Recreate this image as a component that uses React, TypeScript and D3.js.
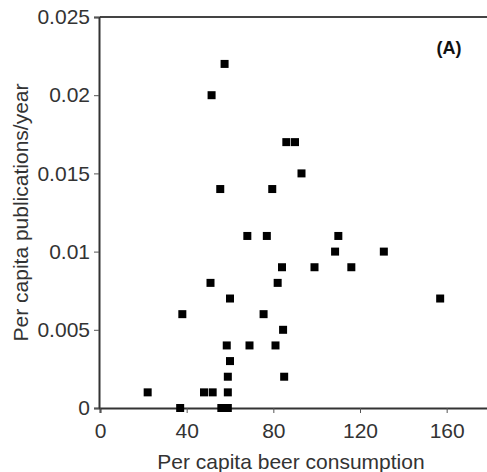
import React, { useRef, useEffect } from 'react';
import * as d3 from 'd3';

// per capita beer consumption (x) and publications/year (y)
const beer = [22, 37, 38, 48, 52, 51, 51.5, 57.5, 55.5, 56, 59, 59, 59, 60, 58.5, 60, 68, 69, 75.5, 77, 79.5, 81, 82, 84, 84.5, 85, 86, 90, 93, 99, 108.5, 110, 116, 131, 157];
const pubs = [0.001, 0, 0.006, 0.001, 0.001, 0.008, 0.02, 0.022, 0.014, 0, 0, 0.001, 0.002, 0.003, 0.004, 0.007, 0.011, 0.004, 0.006, 0.011, 0.014, 0.004, 0.008, 0.009, 0.005, 0.002, 0.017, 0.017, 0.015, 0.009, 0.01, 0.011, 0.009, 0.01, 0.007];
const xTicks = [0, 40, 80, 120, 160];
const yTicks = [0, 0.005, 0.01, 0.015, 0.02, 0.025];

const W = 487;
const H = 472;
const FONT = '"Liberation Sans", Arial, sans-serif';

const App = () => {
  const xRef = useRef<SVGGElement>(null);
  const yRef = useRef<SVGGElement>(null);

  const x = d3.scaleLinear().domain([0, 180]).range([100, 490]);
  const y = d3.scaleLinear().domain([0, 0.025]).range([408, 17]);

  useEffect(() => {
    const xAxis = d3.axisBottom(x).tickValues(xTicks).tickSize(5).tickPadding(10).tickFormat(d => String(d));
    const gx = d3.select(xRef.current!).call(xAxis as any);
    gx.select('.domain').attr('stroke', '#333').attr('stroke-width', 2);
    gx.selectAll('.tick line').attr('stroke', '#555');
    gx.selectAll('.tick text').attr('fill', '#333').style('font-size', '21px').style('font-family', FONT);

    const yAxis = d3.axisLeft(y).tickValues(yTicks).tickSize(5).tickPadding(4).tickFormat(d => String(d));
    const gy = d3.select(yRef.current!).call(yAxis as any);
    gy.select('.domain').attr('stroke', '#333').attr('stroke-width', 2);
    gy.selectAll('.tick line').attr('stroke', '#555');
    gy.selectAll('.tick text').attr('fill', '#333').style('font-size', '21px').style('font-family', FONT);
  }, []);

  const s = 8;
  return (
    <svg width={W} height={H} style={{ position: 'absolute', left: 0, top: 0, background: '#fff' }}>
      <line x1={x(0)} x2={W} y1={y(0.025)} y2={y(0.025)} stroke="#444" strokeWidth={2} />
      <g ref={xRef} transform={`translate(0,${y(0)})`} />
      <g ref={yRef} transform={`translate(${x(0) - 1},0)`} />
      {beer.map((b, i) => (
        <rect key={i} x={x(b) - s / 2} y={y(pubs[i]) - s / 2} width={s} height={s} fill="#000" />
      ))}
      <text x={449} y={54} textAnchor="middle" fontFamily={FONT} fontWeight="bold" fontSize={18} fill="#111">(A)</text>
      <text x={291} y={469} textAnchor="middle" fontFamily={FONT} fontSize={21} fill="#333">Per capita beer consumption</text>
      <text transform={`translate(28,${(y(0) + y(0.025)) / 2}) rotate(-90)`} textAnchor="middle" fontFamily={FONT} fontSize={21} fill="#333">Per capita publications/year</text>
    </svg>
  );
};

export default App;
